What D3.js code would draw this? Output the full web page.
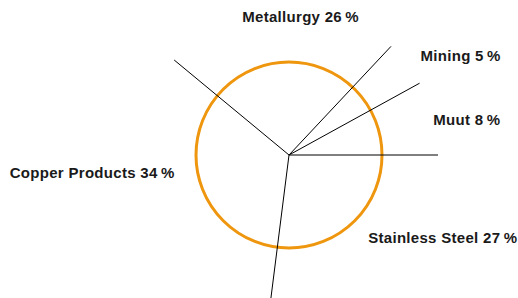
<!DOCTYPE html>
<html>
<head>
<meta charset="utf-8">
<script src="https://cdn.jsdelivr.net/npm/d3@7"></script>
<style>
  body { margin: 0; background: #fff; }
  text { font-family: "Liberation Sans", Arial, Helvetica, sans-serif; font-weight: 700; fill: #1a1a1a; letter-spacing: 0.3px; }
</style>
</head>
<body>
<div id="chart"></div>
<script>
// slices, clockwise from the Metallurgy edge
var categories = ["Metallurgy", "Mining", "Muut", "Stainless Steel", "Copper Products"];
var shares = [26, 5, 8, 27, 34];

var width = 518, height = 298;
var cx = 289, cy = 155;
var ringRadius = 93, spokeLength = 149, labelRadius = 150;

// Stainless Steel starts exactly at 3 o'clock
var startDeg = 90 - d3.sum(shares.slice(0, 3)) * 3.6;
var pie = d3.pie().sort(null)
    .startAngle(startDeg * Math.PI / 180)
    .endAngle((startDeg + 360) * Math.PI / 180);

var slices = pie(shares);

var svg = d3.select("#chart").append("svg")
    .attr("width", width)
    .attr("height", height);

var g = svg.append("g")
    .attr("transform", "translate(" + cx + "," + cy + ")");

// outline ring
g.append("circle")
    .attr("r", ringRadius)
    .attr("fill", "none")
    .attr("stroke", "#ef960f")
    .attr("stroke-width", 3);

// slice edges drawn as spokes
g.selectAll(".spoke")
    .data(slices)
    .enter().append("line")
    .attr("class", "spoke")
    .attr("x1", 0).attr("y1", 0)
    .attr("x2", function (d) { return spokeLength * Math.sin(d.startAngle); })
    .attr("y2", function (d) { return -spokeLength * Math.cos(d.startAngle); })
    .attr("stroke", "#000")
    .attr("stroke-width", 1);

// hand-tuned nudges off the radial label spot
var nudge = [[21, 17], [13, -2], [-1, 7], [-20, -25], [25, -32]];

g.selectAll(".label")
    .data(slices)
    .enter().append("text")
    .attr("class", "label")
    .attr("font-size", "15px")
    .attr("text-anchor", function (d) {
        var s = Math.sin((d.startAngle + d.endAngle) / 2);
        return s > 0.3 ? "start" : (s < -0.3 ? "end" : "middle");
    })
    .attr("x", function (d, i) {
        var a = (d.startAngle + d.endAngle) / 2;
        return labelRadius * Math.sin(a) + nudge[i][0];
    })
    .attr("y", function (d, i) {
        var a = (d.startAngle + d.endAngle) / 2;
        return -labelRadius * Math.cos(a) + nudge[i][1];
    })
    .text(function (d, i) { return categories[i] + " " + d.data + "\u2009%"; });
</script>
</body>
</html>
